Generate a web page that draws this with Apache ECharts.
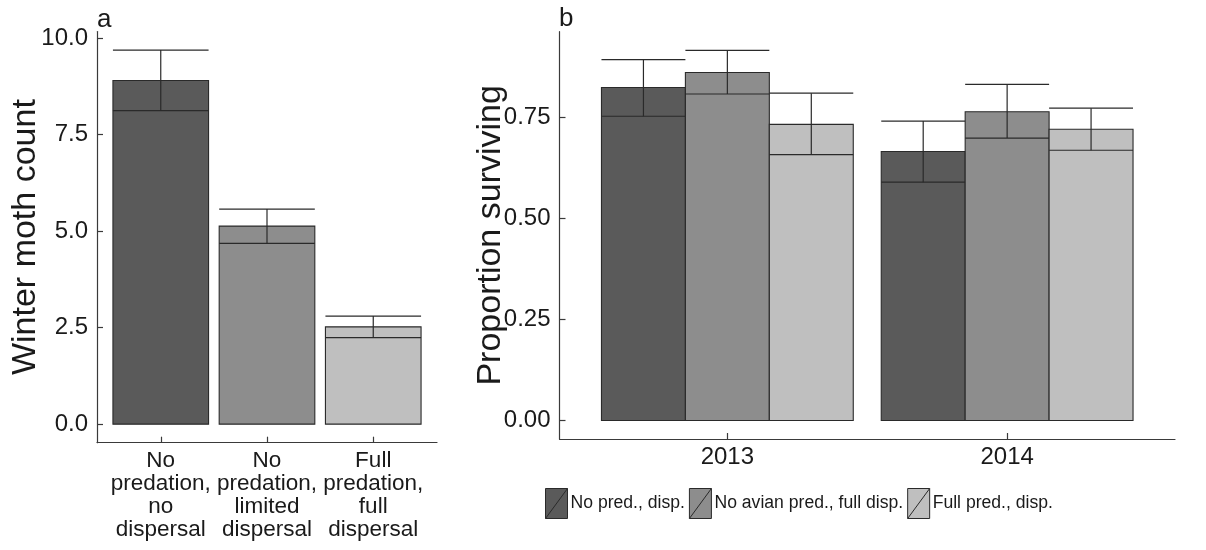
<!DOCTYPE html>
<html>
<head>
<meta charset="utf-8">
<script src="https://cdn.jsdelivr.net/npm/echarts@6/dist/echarts.min.js"></script>
<style>
html,body{margin:0;padding:0;background:#fff;}
#c{width:1206px;height:550px;}
</style>
</head>
<body>
<div id="c"></div>
<script>
// ---- Panel a data ----
const catsA = ['No\npredation,\nno\ndispersal', 'No\npredation,\nlimited\ndispersal', 'Full\npredation,\nfull\ndispersal'];
const meanA = [8.90, 5.13, 2.52];
const lowA  = [8.12, 4.68, 2.24];
const highA = [9.69, 5.57, 2.80];
const ticksA = [0, 2.5, 5, 7.5, 10];

// ---- Panel b data ----
const years = ['2013', '2014'];
const treatments = ['No pred., disp.', 'No avian pred., full disp.', 'Full pred., disp.'];
const meanNoPred   = [0.823, 0.665];
const lowNoPred    = [0.752, 0.589];
const highNoPred   = [0.892, 0.740];
const meanNoAvian  = [0.860, 0.763];
const lowNoAvian   = [0.807, 0.698];
const highNoAvian  = [0.915, 0.831];
const meanFull     = [0.732, 0.720];
const lowFull      = [0.657, 0.668];
const highFull     = [0.809, 0.772];
const ticksB = [0, 0.25, 0.5, 0.75];

const greys = ['#5a5a5a', '#8d8d8d', '#bfbfbf'];
const FONT = 'Liberation Sans';
const TXT = '#1a1a1a';
const AXC = '#3a3a3a';

function barRender(width, offset, colorFn) {
  return function (params, api) {
    const x = api.value(0) + offset;
    const m = api.value(1), lo = api.value(2), hi = api.value(3);
    const p0 = api.coord([x - width / 2, 0]);
    const p1 = api.coord([x + width / 2, m]);
    const pl = api.coord([x, lo]);
    const ph = api.coord([x, hi]);
    const col = colorFn(params);
    const ls = { stroke: '#2a2a2a', lineWidth: 1.2 };
    return {
      type: 'group',
      children: [
        { type: 'rect', shape: { x: p0[0], y: p1[1], width: p1[0] - p0[0], height: p0[1] - p1[1] },
          style: { fill: col, stroke: '#2a2a2a', lineWidth: 1.1 } },
        { type: 'line', shape: { x1: p0[0], y1: pl[1], x2: p1[0], y2: pl[1] }, style: ls },
        { type: 'line', shape: { x1: pl[0], y1: pl[1], x2: pl[0], y2: ph[1] }, style: ls },
        { type: 'line', shape: { x1: p0[0], y1: ph[1], x2: p1[0], y2: ph[1] }, style: ls }
      ]
    };
  };
}

const dataA = catsA.map((c, i) => [i + 1, meanA[i], lowA[i], highA[i]]);
const seriesB = [
  [meanNoPred, lowNoPred, highNoPred],
  [meanNoAvian, lowNoAvian, highNoAvian],
  [meanFull, lowFull, highFull]
];

const axisCommon = {
  axisLine: { show: true, onZero: false, lineStyle: { color: AXC, width: 1.2 } },
  axisTick: { show: true, inside: true, length: 6, lineStyle: { color: AXC, width: 1.2 } },
  splitLine: { show: false }
};

const option = {
  backgroundColor: '#fff',
  animation: false,
  textStyle: { fontFamily: FONT },
  title: [
    { text: 'a', left: 97, top: 7, padding: 0, textStyle: { fontSize: 26, fontWeight: 'normal', color: TXT, fontFamily: FONT } },
    { text: 'b', left: 559, top: 6, padding: 0, textStyle: { fontSize: 26, fontWeight: 'normal', color: TXT, fontFamily: FONT } }
  ],
  legend: {
    data: treatments,
    left: 545, top: 488, padding: 0,
    itemWidth: 22, itemHeight: 30, itemGap: 4,
    icon: 'path://M0,0L22,0L22,30L0,30Z M0,30L22,0',
    itemStyle: { borderColor: '#2a2a2a', borderWidth: 1 },
    textStyle: { fontSize: 17.6, color: TXT, fontFamily: FONT, padding: [0, 0, 0, -2] }
  },
  grid: [
    { left: 97, right: 1206 - 437, top: 31.5, bottom: 550 - 442.7 },
    { left: 559.5, right: 1206 - 1175, top: 31.7, bottom: 550 - 439 }
  ],
  xAxis: [
    Object.assign({}, axisCommon, {
      type: 'value', gridIndex: 0, min: 0.4, max: 3.6,
      axisTick: Object.assign({}, axisCommon.axisTick, { customValues: catsA.map((c, i) => i + 1) }),
      axisLabel: { customValues: catsA.map((c, i) => i + 1), formatter: v => catsA[Math.round(v) - 1] || '',
        fontSize: 22.5, lineHeight: 23, color: TXT, margin: 7, fontFamily: FONT }
    }),
    Object.assign({}, axisCommon, {
      type: 'value', gridIndex: 1, min: 0.4, max: 2.6,
      axisTick: Object.assign({}, axisCommon.axisTick, { customValues: years.map((c, i) => i + 1) }),
      axisLabel: { customValues: years.map((c, i) => i + 1), formatter: v => years[Math.round(v) - 1] || '',
        fontSize: 24, color: TXT, margin: 6, fontFamily: FONT }
    })
  ],
  yAxis: [
    Object.assign({}, axisCommon, {
      type: 'value', gridIndex: 0, min: -0.48, max: 10.17,
      axisTick: Object.assign({}, axisCommon.axisTick, { customValues: ticksA }),
      axisLabel: { customValues: ticksA, formatter: v => v.toFixed(1), fontSize: 24, color: TXT, margin: 9, fontFamily: FONT },
      name: 'Winter moth count', nameLocation: 'middle', nameGap: 54, nameMoveOverlap: false,
      nameTextStyle: { fontSize: 34, color: TXT, fontFamily: FONT }
    }),
    Object.assign({}, axisCommon, {
      type: 'value', gridIndex: 1, min: -0.0458, max: 0.961,
      axisTick: Object.assign({}, axisCommon.axisTick, { customValues: ticksB }),
      axisLabel: { customValues: ticksB, formatter: v => v.toFixed(2), fontSize: 24, color: TXT, margin: 9, fontFamily: FONT },
      name: 'Proportion surviving', nameLocation: 'middle', nameGap: 52, nameMoveOverlap: false,
      nameTextStyle: { fontSize: 34, color: TXT, fontFamily: FONT }
    })
  ],
  series: [
    {
      type: 'custom', name: 'Winter moth count', xAxisIndex: 0, yAxisIndex: 0,
      encode: { x: 0, y: 1 },
      renderItem: barRender(0.9, 0, p => greys[p.dataIndex]),
      data: dataA
    }
  ].concat(treatments.map((t, k) => ({
    type: 'custom', name: t, xAxisIndex: 1, yAxisIndex: 1,
    itemStyle: { color: greys[k] },
    encode: { x: 0, y: 1 },
    renderItem: barRender(0.3, (k - 1) * 0.3, () => greys[k]),
    data: years.map((y, i) => [i + 1, seriesB[k][0][i], seriesB[k][1][i], seriesB[k][2][i]])
  })))
};

const chart = echarts.init(document.getElementById('c'), null, { renderer: 'canvas' });
chart.setOption(option);
</script>
</body>
</html>
